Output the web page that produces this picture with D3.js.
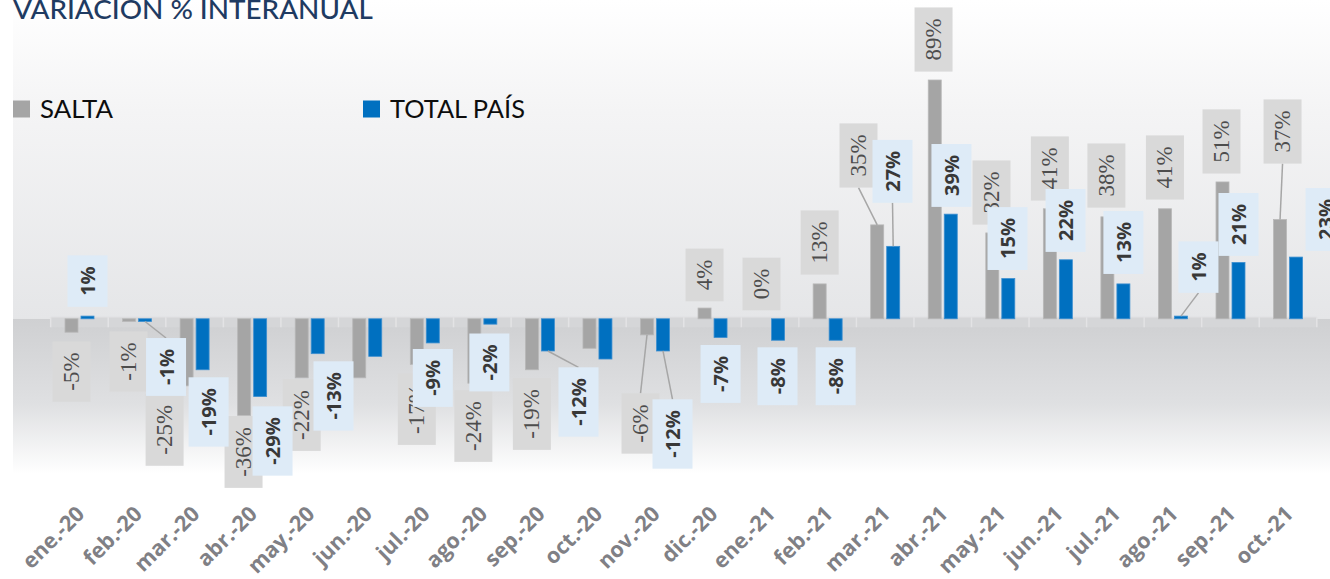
<!DOCTYPE html>
<html><head><meta charset="utf-8">
<script src="https://cdn.jsdelivr.net/npm/d3@7"></script>
<style>body{margin:0;background:#fff;overflow:hidden}svg{display:block}</style>
</head><body>
<svg id="c" width="1330" height="579"></svg>
<script>
// ---------- data ----------
const categories = ["ene.-20","feb.-20","mar.-20","abr.-20","may.-20","jun.-20","jul.-20","ago.-20","sep.-20","oct.-20","nov.-20","dic.-20",
                    "ene.-21","feb.-21","mar.-21","abr.-21","may.-21","jun.-21","jul.-21","ago.-21","sep.-21","oct.-21"];
const salta     = [-5,-1,-25,-36,-22,-22,-17,-24,-19,-11,-6,4,0,13,35,89,32,41,38,41,51,37];
const totalPais = [1,-1,-19,-29,-13,-14,-9,-2,-12,-15,-12,-7,-8,-8,27,39,15,22,13,1,21,23];
const seriesNames = ["SALTA","TOTAL PAÍS"];
const titleText = "VARIACION % INTERANUAL";

// ---------- label layout (offset of label box centre from bar end, px; null = hidden) ----------
const saltaLabelOffset = [[0,39.3],[-0.5,40],[-22,44],[-0.6,36.6],[0,37.2],null,[0,44.6],[-1,42.8],[0,44.2],null,[-6.5,88.6],[0,-33.1],
                          [-0.6,-34.8],[0,-41.4],[-18.7,-69.4],[-1.2,-40.5],[-0.8,-40.4],[0,-40.3],[-1,-41.3],[0,-41.3],[-1,-40.5],[2.5,-88]];
const totalLabelOffset = [[0,-35],[21,45.5],[6,42.2],[12.4,44.4],[15.8,42.3],null,[0,35],[-1,38.3],[30.6,51],null,[9.5,83],[0,36.4],
                          [-0.6,36],[0,36],[-0.7,-75],[0.7,-38.7],[-0.8,-40],[-0.3,-39.3],[0,-41.4],[17.5,-49],[0,-38],[29.5,-37.6]];
const saltaLeader = [10,14,21];
const totalLeader = [1,8,10,14,19];

// ---------- setup ----------
const svg = d3.select("#c");
const W = 1330, H = 579;
const defs = svg.append("defs");
const gUp = defs.append("linearGradient").attr("id","gUp").attr("x1",0).attr("y1",0).attr("x2",0).attr("y2",1);
gUp.append("stop").attr("offset","0%").attr("stop-color","#ffffff");
gUp.append("stop").attr("offset","35%").attr("stop-color","#f4f4f5");
gUp.append("stop").attr("offset","100%").attr("stop-color","#e5e6e8");
const gDn = defs.append("linearGradient").attr("id","gDn").attr("x1",0).attr("y1",0).attr("x2",0).attr("y2",1);
gDn.append("stop").attr("offset","0%").attr("stop-color","#cfd0d2");
gDn.append("stop").attr("offset","55%").attr("stop-color","#dfe0e2");
gDn.append("stop").attr("offset","100%").attr("stop-color","#ffffff");

const x = d3.scaleBand().domain(categories).range([50.7, 1316.8]).padding(0);
const xs = d3.scaleBand().domain(["salta","total"]).range([14.3, 43.3]).paddingInner(0.1875);
const y = d3.scaleLinear().domain([-40, 90]).range([426.1, 77.33]);
const y0 = y(0);

// background
svg.append("rect").attr("x",13).attr("y",0).attr("width",W-13).attr("height",y0).attr("fill","url(#gUp)");
svg.append("rect").attr("x",13).attr("y",y0).attr("width",W-13).attr("height",474-y0).attr("fill","url(#gDn)");

// axis band with tick marks
svg.append("rect").attr("x",x.range()[0]).attr("y",y0-1.5).attr("width",x.range()[1]-x.range()[0]).attr("height",10)
   .attr("fill","#d5d6d8");
svg.append("line").attr("x1",x.range()[0]).attr("x2",x.range()[1]).attr("y1",y0-1.5).attr("y2",y0-1.5)
   .attr("stroke","#dcdcde").attr("stroke-width",1.2);
const bounds = categories.map(c => x(c)).concat([x.range()[1]]);
svg.append("g").selectAll("line").data(bounds).join("line")
   .attr("x1",d=>d).attr("x2",d=>d).attr("y1",y0-1.5).attr("y2",y0+8.5)
   .attr("stroke","#e3e3e5").attr("stroke-width",1.5);

// title
const title = svg.append("text").attr("x",13).attr("y",18.5).text(titleText)
   .attr("font-family","Lato, 'Open Sans', sans-serif").attr("font-size",26).attr("font-weight",500).attr("fill","#1f3b62");
const tw = title.node().getComputedTextLength();
title.attr("font-size", 26*360/tw);

// legend
const legend = [{name:seriesNames[0], color:"#a5a5a5", x:13, w:73},{name:seriesNames[1], color:"#0070c0", x:363, w:135}];
legend.forEach(l=>{
  svg.append("rect").attr("x",l.x).attr("y",100.5).attr("width",17).attr("height",17).attr("fill",l.color);
  const t = svg.append("text").attr("x",l.x+27).attr("y",118).text(l.name)
     .attr("font-family","Lato, 'Open Sans', sans-serif").attr("font-size",23).attr("fill","#0d0d0d");
  const len = t.node().getComputedTextLength();
  t.attr("font-size", 23*l.w/len);
});

// bars
const series = [
  {key:"salta", vals:salta, fill:"#a5a5a5", stroke:"#b8b8b8", off:saltaLabelOffset, leaders:saltaLeader,
   boxFill:"#d9d9d9", font:"'Liberation Serif','DejaVu Serif',serif", fs:23, fw:400, tc:"#4d4d4d"},
  {key:"total", vals:totalPais, fill:"#0070c0", stroke:"#3d8fd0", off:totalLabelOffset, leaders:totalLeader,
   boxFill:"#deebf7", font:"'Open Sans','DejaVu Sans',sans-serif", fs:20, fw:700, tc:"#383838"}
];
const barG = svg.append("g");
series.forEach(s=>{
  barG.append("g").selectAll("rect").data(categories).join("rect")
    .attr("x",(c)=>x(c)+xs(s.key))
    .attr("width",xs.bandwidth())
    .attr("y",(c,i)=>Math.min(y(s.vals[i]),y0))
    .attr("height",(c,i)=>Math.abs(y(s.vals[i])-y0))
    .attr("fill",s.fill).attr("stroke",s.stroke).attr("stroke-width",0.8);
});

// labels
const leaderG = svg.append("g");
const labelG = svg.append("g");
series.forEach(s=>{
  categories.forEach((c,i)=>{
    const o = s.off[i];
    if(!o) return;
    const bx = x(c)+xs(s.key)+xs.bandwidth()/2;
    const by = y(s.vals[i]);
    const cx = bx+o[0], cy = by+o[1];
    const g = labelG.append("g");
    const rect = g.append("rect");
    const t = g.append("text").text(s.vals[i]+"%")
      .attr("font-family",s.font).attr("font-size",s.fs).attr("font-weight",s.fw).attr("fill",s.tc)
      .attr("text-anchor","middle").attr("dominant-baseline","central")
      .attr("transform",`translate(${cx},${cy}) rotate(-90)`);
    const len = t.node().getComputedTextLength();
    const bw = s.key==="salta"?38:40, bh = len+22;
    rect.attr("x",cx-bw/2).attr("y",cy-bh/2).attr("width",bw).attr("height",bh).attr("fill",s.boxFill);
    if(s.leaders.includes(i)){
      const ey = o[1]>0 ? cy-bh/2 : cy+bh/2;
      leaderG.append("line").attr("x1",bx).attr("y1",by).attr("x2",cx).attr("y2",ey)
        .attr("stroke","#a6a6a6").attr("stroke-width",1.5);
    }
  });
});

// x axis labels
const axis = d3.axisBottom(x).tickSize(0);
const ax = svg.append("g").attr("transform","translate(0,510)").call(axis);
ax.select(".domain").remove();
ax.selectAll("text")
  .attr("x",0).attr("y",0).attr("dy","0.35em")
  .attr("text-anchor","end").attr("transform","translate(1,0) rotate(-45)")
  .attr("font-family","'Open Sans','DejaVu Sans',sans-serif").attr("font-size",21.5).attr("font-weight",700)
  .attr("fill","#808085");
</script>
</body></html>
